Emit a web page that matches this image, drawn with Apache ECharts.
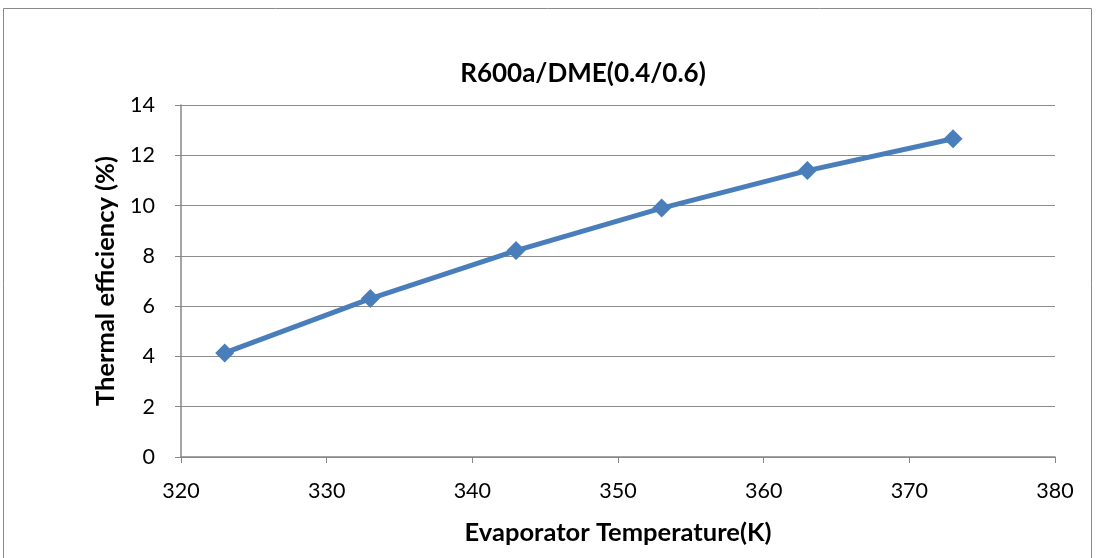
<!DOCTYPE html>
<html>
<head>
<meta charset="utf-8">
<script src="https://cdn.jsdelivr.net/npm/echarts@6/dist/echarts.min.js"></script>
<style>
  html, body { margin: 0; padding: 0; background: #ffffff; }
  #chart { width: 1096px; height: 558px; }
</style>
</head>
<body>
<div id="chart"></div>
<script>
// Evaporator temperature (K) and thermal efficiency (%) for R600a/DME (0.4/0.6)
const temperatures = [323, 333, 343, 353, 363, 373];
const efficiency = [4.14, 6.30, 8.21, 9.90, 11.39, 12.66];

const chartTitle = 'R600a/DME(0.4/0.6)';
const xTitle = 'Evaporator Temperature(K)';
const yTitle = 'Thermal efficiency (%)';

const font = 'Lato, "Open Sans", "Liberation Sans", sans-serif';

const chart = echarts.init(document.getElementById('chart'), null, { renderer: 'canvas' });

chart.setOption({
  backgroundColor: '#ffffff',
  animation: false,
  graphic: [{
    type: 'rect',
    shape: { x: 3.5, y: 8.5, width: 1088, height: 560 },
    style: { fill: 'none', stroke: '#8a8a8a', lineWidth: 1 },
    silent: true
  }],
  title: {
    text: chartTitle,
    left: 578,
    top: 56,
    textAlign: 'center',
    textStyle: { fontFamily: font, fontWeight: 'bold', fontSize: 26, color: '#000' }
  },
  grid: { left: 181, right: 41, top: 105, bottom: 101, containLabel: false },
  xAxis: {
    type: 'value',
    min: 320, max: 380, interval: 10,
    name: xTitle,
    nameLocation: 'middle',
    nameGap: 63,
    nameTextStyle: { fontFamily: font, fontWeight: 'bold', fontSize: 25.5, color: '#000' },
    axisLine: { show: true, lineStyle: { color: '#868686', width: 1.5 } },
    axisTick: { show: true, length: 6, lineStyle: { color: '#868686' } },
    axisLabel: { fontFamily: font, fontSize: 21.5, color: '#000', margin: 23 },
    splitLine: { show: false }
  },
  yAxis: {
    type: 'value',
    min: 0, max: 14, interval: 2,
    name: yTitle,
    nameLocation: 'middle',
    nameGap: 62,
    nameRotate: 90,
    nameTextStyle: { fontFamily: font, fontWeight: 'bold', fontSize: 25.5, color: '#000' },
    axisLine: { show: true, lineStyle: { color: '#868686', width: 1.5 } },
    axisTick: { show: true, length: 6, lineStyle: { color: '#868686' } },
    axisLabel: { fontFamily: font, fontSize: 21.5, color: '#000', margin: 26 },
    splitLine: { show: true, lineStyle: { color: '#8c8c8c', width: 1.2 } }
  },
  series: [{
    type: 'line',
    data: temperatures.map((t, i) => [t, efficiency[i]]),
    lineStyle: { color: '#4a7ebb', width: 5 },
    itemStyle: { color: '#4a7ebb' },
    symbol: 'diamond',
    symbolSize: 19,
    showAllSymbol: true
  }]
});
</script>
</body>
</html>
